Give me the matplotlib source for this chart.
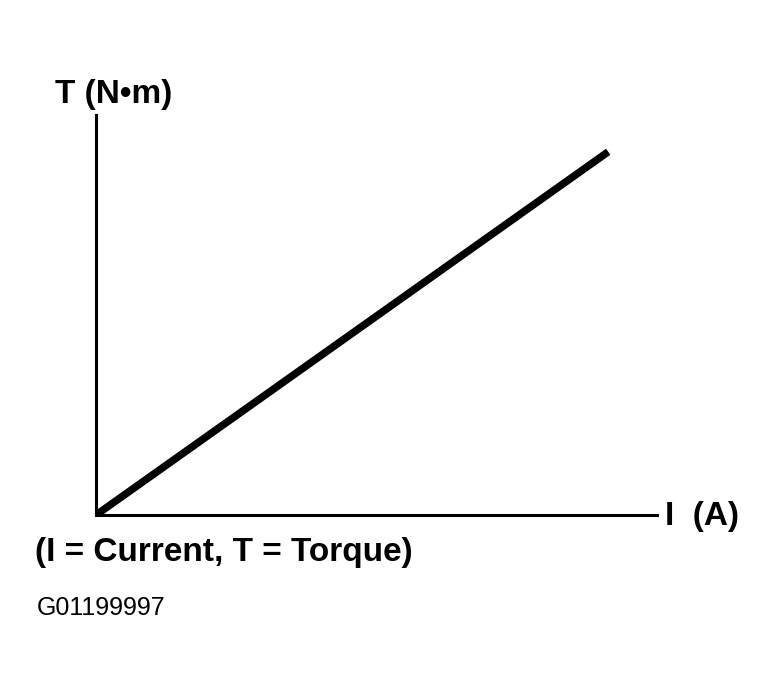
import matplotlib
matplotlib.use("Agg")
import matplotlib.pyplot as plt

# current vs torque (arbitrary units, linear)
current = [0.0, 0.913]
torque = [0.0, 0.908]

W, H = 779, 686
fig = plt.figure(figsize=(W / 100, H / 100), dpi=100)
fig.patch.set_facecolor("white")

# axes box placed in pixel terms: origin at (96, 515), x to 657, y up to 115
x0, y0, x1, y1 = 96, 515, 657, 115
ax = fig.add_axes([x0 / W, 1 - y0 / H, (x1 - x0) / W, (y0 - y1) / H])
ax.set_xlim(0, 1)
ax.set_ylim(0, 1)

ax.plot(current, torque, color="black", lw=5.4, solid_capstyle="butt")

for s in ["top", "right"]:
    ax.spines[s].set_visible(False)
for s in ["left", "bottom"]:
    ax.spines[s].set_linewidth(2.2)
ax.set_xticks([])
ax.set_yticks([])

font = "Liberation Sans"
fig.text(55 / W, 1 - 103 / H, "T (N\u2022m)", fontsize=24, family=font,
         fontweight="bold", ha="left", va="baseline")
fig.text(665 / W, 1 - 525 / H, "I  (A)", fontsize=24, family=font,
         fontweight="bold", ha="left", va="baseline")
fig.text(35 / W, 1 - 561 / H, "(I = Current, T = Torque)", fontsize=24,
         family=font, fontweight="bold", ha="left", va="baseline")
fig.text(37 / W, 1 - 615 / H, "G01199997", fontsize=18, family=font,
         ha="left", va="baseline")

fig.savefig("out.png", dpi=100)
